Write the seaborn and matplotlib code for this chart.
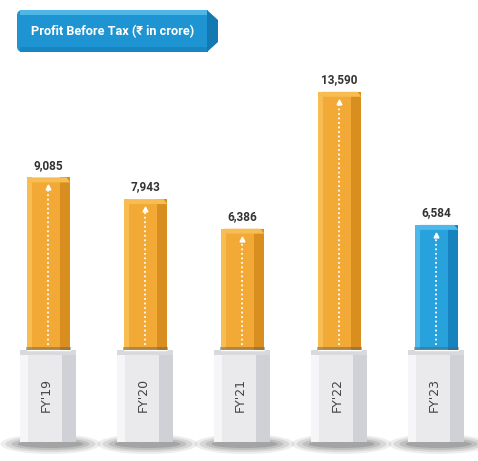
import matplotlib
matplotlib.use("Agg")
import matplotlib.pyplot as plt
import seaborn as sns
from matplotlib.patches import Rectangle, Polygon, Ellipse, FancyBboxPatch
from matplotlib import font_manager

# ---- data ----
years = ["FY'19", "FY'20", "FY'21", "FY'22", "FY'23"]
profit = [9085, 7943, 6386, 13590, 6584]
value_labels = ["9,085", "7,943", "6,386", "13,590", "6,584"]
title = "Profit Before Tax (\u20b9 in crore)"

ORANGE, ORANGE_D, ORANGE_L = "#F2A935", "#D98F1F", "#F7BD52"
BLUE, BLUE_D, BLUE_L = "#27A2DD", "#1783BE", "#4EB8EA"
bar_colors = [ORANGE, ORANGE, ORANGE, ORANGE, BLUE]
dark_colors = [ORANGE_D] * 4 + [BLUE_D]
light_colors = [ORANGE_L] * 4 + [BLUE_L]

sns.set_theme(style="white")
names = {f.name for f in font_manager.fontManager.ttflist}
narrow = "Liberation Sans Narrow" if "Liberation Sans Narrow" in names else "Roboto"
plt.rcParams["font.family"] = [narrow, "DejaVu Sans"]

W, H = 478, 461
fig = plt.figure(figsize=(W / 100, H / 100), dpi=100)
fig.patch.set_facecolor("white")
ax = fig.add_axes([0, 0, 1, 1])

sns.barplot(x=years, y=profit, hue=years, palette=bar_colors, legend=False,
            width=0.45, saturation=1, ax=ax, zorder=3)
ax.set_xlim(-0.50, 4.428)
ax.set_ylim(-5840, 18420)
ax.axis("off")

# pixel -> data conversion
ux = (4.428 + 0.50) / W
uy = (18420 + 5840) / H

bars = sorted(ax.patches, key=lambda p: p.get_x())
for i, p in enumerate(bars):
    x0 = p.get_x(); w = p.get_width(); h = p.get_height(); x1 = x0 + w
    xc = x0 + w / 2
    # pedestal
    pw = 56 * ux
    px0 = xc - pw / 2
    ph = 92 * uy
    for k, (sw, sh, a) in enumerate([(100, 20, 0.10), (90, 16, 0.14), (78, 12, 0.18),
                                     (66, 8, 0.25)]):
        ax.add_patch(Ellipse((xc + 2 * ux, -ph - 2 * uy), sw * ux, sh * uy,
                             facecolor="#555555", alpha=a, edgecolor="none", zorder=1))
    ax.add_patch(Rectangle((px0, -ph), pw, ph, facecolor="#EAEAED",
                           edgecolor="none", zorder=2))
    ax.add_patch(Rectangle((px0, -ph), pw * 0.13, ph, facecolor="#F6F6F8",
                           edgecolor="none", zorder=2))
    ax.add_patch(Rectangle((px0 + pw * 0.74, -ph), pw * 0.26, ph, facecolor="#D0D1D6",
                           edgecolor="none", zorder=2))
    ax.add_patch(Rectangle((px0, -5 * uy), pw, 5 * uy, facecolor="#D8D9DD",
                           edgecolor="none", zorder=2))
    # bar shading
    ax.add_patch(Rectangle((x1 - w * 0.24, 0), w * 0.24, h, facecolor=dark_colors[i],
                           edgecolor="none", zorder=4))
    ax.add_patch(Rectangle((x0, 0), w * 0.12, h, facecolor=light_colors[i],
                           edgecolor="none", zorder=4))
    # top cap
    ax.add_patch(Polygon([(x0, h - 5 * uy), (x0 + 4 * ux, h), (x1 - 4 * ux, h),
                          (x1, h - 5 * uy)], closed=True,
                         facecolor=light_colors[i], edgecolor="none", zorder=5))
    # dark band at bar bottom
    ax.add_patch(Rectangle((x0 - 1 * ux, 0), w + 2 * ux, 3 * uy, facecolor="#5a5a5a",
                           alpha=0.45, edgecolor="none", zorder=5))
    # dotted line with arrow
    ax.plot([xc, xc], [5 * uy, h - 10 * uy], color="white", linestyle=(0, (1, 1.5)),
            linewidth=1.3, zorder=6)
    ax.plot([xc], [h - 10 * uy], marker="^", color="white", markersize=3.5, zorder=6)
    # value label
    ax.text(xc, h + 12 * uy, value_labels[i], ha="center", va="center",
            fontsize=8.5, fontweight="bold", color="#333333", zorder=7)
    # category label
    ax.text(xc - 2 * ux, -45 * uy, years[i], rotation=90, ha="center", va="center",
            fontsize=9, color="#444444", family=["DejaVu Sans"], zorder=7)

# title banner (figure pixel coords)
def fx(px): return px / W
def fy(py): return 1 - py / H
ban = FancyBboxPatch((fx(17), fy(52)), fx(192), 42 / H,
                     boxstyle="round,pad=0,rounding_size=0.012",
                     transform=fig.transFigure, facecolor="#1E95D2", edgecolor="none")
fig.patches.append(ban)
fig.patches.append(Rectangle((fx(20), fy(15)), fx(188), 5 / H, transform=fig.transFigure,
                             facecolor="#4FB6E8", edgecolor="none"))
fig.patches.append(Rectangle((fx(20), fy(52)), fx(188), 5 / H, transform=fig.transFigure,
                             facecolor="#1786C2", edgecolor="none"))
fig.patches.append(Polygon([(fx(207), fy(10)), (fx(218), fy(20)), (fx(218), fy(42)),
                            (fx(207), fy(52))], closed=True, transform=fig.transFigure,
                           facecolor="#1479B2", edgecolor="none"))
fig.text(fx(113), fy(32), title, ha="center", va="center", color="white",
         fontsize=9.2, fontweight="bold")

fig.savefig("out.png", dpi=100, facecolor="white")
